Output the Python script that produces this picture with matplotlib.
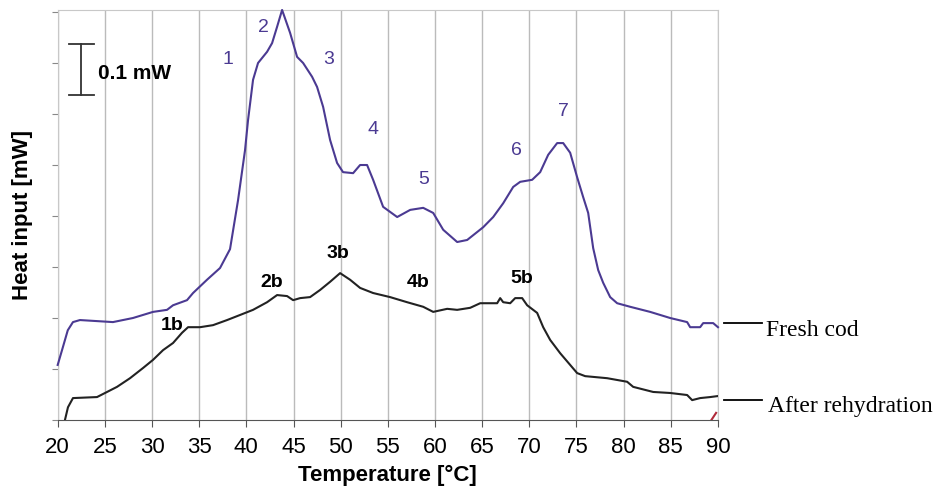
import matplotlib
matplotlib.use('Agg')
from matplotlib import pyplot as plt

plt.rcParams['font.family'] = ['Liberation Sans', 'DejaVu Sans']

# fresh cod curve (temperature in degC, heat input in mW, relative)
fresh_t = [20.0, 20.46, 21.07, 21.62, 22.36, 25.86, 27.98, 30.11, 31.59, 32.23, 33.71, 34.35,
           35.83, 37.21, 38.27, 39.12, 39.86, 40.18, 40.71, 41.24, 42.20, 42.73, 43.26, 43.79,
           44.64, 45.38, 46.02, 46.97, 47.50, 48.14, 48.88, 49.62, 50.25, 51.32, 52.06, 52.80,
           53.44, 54.50, 55.99, 57.37, 58.75, 59.81, 60.87, 62.35, 63.41, 65.11, 66.17, 67.23,
           68.29, 69.03, 70.30, 71.15, 72.00, 72.95, 73.59, 74.33, 75.07, 75.71, 76.24, 76.77,
           77.30, 77.83, 78.57, 79.31, 80.69, 82.81, 84.93, 86.73, 87.05, 88.11, 88.43, 89.49, 90.0]
fresh_q = [0.108, 0.137, 0.176, 0.192, 0.196, 0.192, 0.200, 0.212, 0.216, 0.225, 0.235, 0.249,
           0.275, 0.298, 0.335, 0.431, 0.529, 0.588, 0.667, 0.700, 0.722, 0.739, 0.771, 0.804,
           0.759, 0.712, 0.700, 0.673, 0.653, 0.614, 0.549, 0.504, 0.486, 0.484, 0.500, 0.500,
           0.471, 0.418, 0.398, 0.412, 0.416, 0.406, 0.373, 0.349, 0.353, 0.378, 0.398, 0.425,
           0.457, 0.467, 0.471, 0.486, 0.520, 0.543, 0.543, 0.524, 0.476, 0.437, 0.406, 0.337,
           0.294, 0.269, 0.241, 0.229, 0.222, 0.212, 0.200, 0.192, 0.182, 0.182, 0.190, 0.190, 0.182]

# after rehydration curve
rehyd_t = [20.77, 21.09, 21.62, 24.17, 25.23, 26.29, 27.67, 29.05, 30.11, 31.17, 32.23, 33.18,
           33.82, 35.09, 36.47, 37.96, 39.34, 40.71, 42.20, 43.26, 44.32, 44.96, 45.70, 46.76,
           47.82, 48.88, 49.94, 51.00, 52.06, 53.44, 55.24, 57.04, 58.75, 59.81, 61.29, 62.35,
           63.73, 64.79, 66.59, 66.91, 67.23, 67.97, 68.50, 69.24, 69.77, 70.83, 71.47, 72.21,
           73.27, 74.33, 75.07, 75.92, 78.25, 80.37, 81.01, 83.13, 84.93, 86.73, 87.26, 88.11,
           89.17, 90.0]
rehyd_q = [0.0, 0.025, 0.043, 0.045, 0.055, 0.065, 0.082, 0.102, 0.118, 0.137, 0.151, 0.171,
           0.182, 0.182, 0.186, 0.196, 0.206, 0.216, 0.231, 0.245, 0.243, 0.235, 0.239, 0.241,
           0.255, 0.271, 0.288, 0.275, 0.259, 0.249, 0.241, 0.231, 0.222, 0.212, 0.218, 0.216,
           0.220, 0.229, 0.229, 0.239, 0.231, 0.229, 0.239, 0.239, 0.225, 0.210, 0.182, 0.157,
           0.131, 0.108, 0.092, 0.086, 0.082, 0.075, 0.065, 0.055, 0.053, 0.049, 0.039, 0.043,
           0.045, 0.047]

# small red trace at the end
red_t = [89.3, 89.8]
red_q = [0.0, 0.014]

# peak labels
fresh_labels = ['1', '2', '3', '4', '5', '6', '7']
fresh_lab_t = [38.1, 41.8, 48.7, 53.4, 58.8, 68.6, 73.6]
fresh_lab_q = [0.706, 0.769, 0.706, 0.569, 0.471, 0.529, 0.604]
rehyd_labels = ['1b', '2b', '3b', '4b', '5b']
rehyd_lab_t = [32.1, 42.7, 49.7, 58.2, 69.2]
rehyd_lab_q = [0.186, 0.269, 0.327, 0.269, 0.278]

x_ticks = list(range(20, 91, 5))

purple = '#4b3a92'

fig = plt.figure(figsize=(9.41, 4.98), dpi=100)
ax = fig.add_axes([0.0613, 0.1566, 0.7017, 0.8234])

ax.plot(fresh_t, fresh_q, color=purple, lw=1.5, clip_on=False, zorder=3)
ax.plot(rehyd_t, rehyd_q, color='#222222', lw=1.5, zorder=3)
ax.plot(red_t, red_q, color='#b02a3a', lw=1.5, zorder=3)

ax.set_xlim(20, 90)
ax.set_ylim(0, 0.804)
ax.set_xticks(x_ticks)
ax.set_yticks([i / 10 for i in range(9)])
ax.set_yticklabels([])
ax.tick_params(axis='x', labelsize=16, length=5, color='#555555', pad=7)
ax.tick_params(axis='y', length=4, color='#888888')
ax.grid(axis='x', color='#bbbbbb', lw=1)
for s in ['top', 'right', 'left']:
    ax.spines[s].set_color('#c8c8c8')
ax.spines['bottom'].set_color('#555555')

ax.set_xlabel('Temperature [°C]', fontsize=16, fontweight='bold', labelpad=5)
ax.set_ylabel('Heat input [mW]', fontsize=16, fontweight='bold', labelpad=10)

for lab, t, q in zip(fresh_labels, fresh_lab_t, fresh_lab_q):
    ax.text(t, q, lab, color=purple, fontsize=14, ha='center', va='center')
for lab, t, q in zip(rehyd_labels, rehyd_lab_t, rehyd_lab_q):
    ax.text(t, q, lab, color='black', fontsize=14, fontweight='bold', ha='center', va='center')

# scale bar 0.1 mW
ax.plot([22.5, 22.5], [0.637, 0.737], color='#333333', lw=1.3)
ax.plot([21.2, 23.8], [0.737, 0.737], color='#333333', lw=1.3)
ax.plot([21.2, 23.8], [0.637, 0.637], color='#333333', lw=1.3)
ax.text(24.3, 0.68, '0.1 mW', fontsize=15, fontweight='bold', va='center')

# series names on the right
serif = ['Liberation Serif', 'DejaVu Serif']
fig.lines.append(plt.Line2D([724 / 941, 762 / 941], [1 - 323 / 498, 1 - 323 / 498],
                            color='black', lw=1.3, transform=fig.transFigure))
fig.lines.append(plt.Line2D([724 / 941, 762 / 941], [1 - 400 / 498, 1 - 400 / 498],
                            color='black', lw=1.3, transform=fig.transFigure))
fig.text(766 / 941, 1 - 330 / 498, 'Fresh cod', family=serif, fontsize=17, va='center')
fig.text(768 / 941, 1 - 406 / 498, 'After rehydration', family=serif, fontsize=17, va='center')

plt.savefig('out.png', dpi=100)
